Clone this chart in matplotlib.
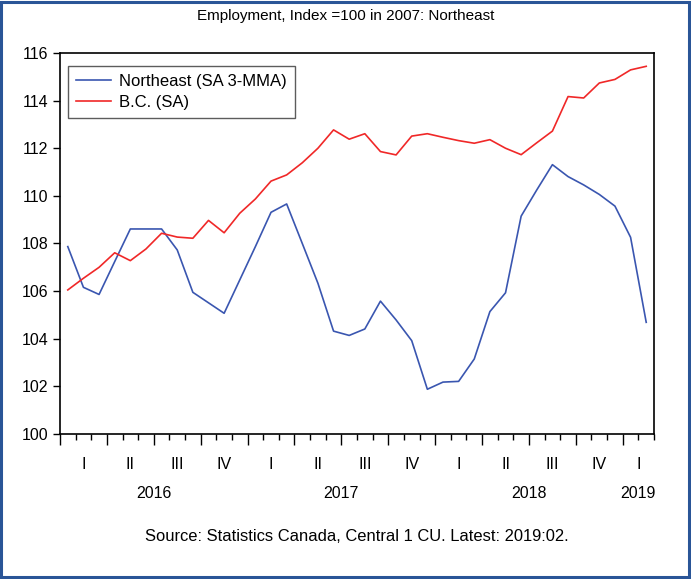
import matplotlib
matplotlib.use("Agg")
import matplotlib.pyplot as plt
from matplotlib.patches import Rectangle
import numpy as np

plt.rcParams['font.family'] = ['Liberation Sans', 'DejaVu Sans']

# Monthly data, Jan 2016 .. Feb 2019
northeast = [107.87, 106.16, 105.86, 107.24, 108.61, 108.61, 108.61, 107.73, 105.95, 105.51,
             105.07, 106.47, 107.87, 109.31, 109.66, 108.0, 106.33, 104.32, 104.14, 104.41,
             105.58, 104.79, 103.92, 101.88, 102.18, 102.21, 103.15, 105.14, 105.93, 109.15,
             110.25, 111.31, 110.81, 110.46, 110.06, 109.57, 108.26, 104.69]
bc = [106.05, 106.54, 107.0, 107.61, 107.28, 107.77, 108.43, 108.27, 108.22, 108.97,
      108.45, 109.27, 109.87, 110.62, 110.88, 111.39, 112.0, 112.77, 112.38, 112.61,
      111.86, 111.72, 112.51, 112.61, 112.46, 112.32, 112.21, 112.36, 112.0, 111.73,
      112.23, 112.72, 114.17, 114.11, 114.74, 114.89, 115.29, 115.44]
years = ['2016', '2017', '2018', '2019']
quarters = ['I', 'II', 'III', 'IV']
series_labels = ['Northeast (SA 3-MMA)', 'B.C. (SA)']

n = len(bc)
x = np.arange(n) + 0.5

fig = plt.figure(figsize=(6.91, 5.79), dpi=100)
ax = fig.add_axes([0.0868, 0.2504, 0.8597, 0.6581])

ax.plot(x, northeast, color='#3a56b0', lw=1.2, label=series_labels[0])
ax.plot(x, bc, color='#f02828', lw=1.2, label=series_labels[1])

ax.set_xlim(0, n)
ax.set_ylim(100, 116)
ax.set_yticks(np.arange(100, 117, 2))
ax.tick_params(axis='y', direction='out', length=5, labelsize=11.5, width=1)

# x ticks: months minor, quarters major
ax.set_xticks(np.arange(0, n + 1, 3))
ax.set_xticks(np.arange(0, n + 1, 1), minor=True)
ax.tick_params(axis='x', which='major', direction='out', length=8, width=1, labelbottom=False)
ax.tick_params(axis='x', which='minor', direction='out', length=4, width=1)

for s in ax.spines.values():
    s.set_linewidth(1.2)

# quarter labels
trans = ax.get_xaxis_transform()
for q in range(0, n, 3):
    end = min(q + 3, n)
    center = (q + end) / 2
    ax.text(center, -0.08, quarters[(q // 3) % 4], transform=trans, ha='center', va='center', fontsize=11.5)
for i, yr in enumerate(years):
    start = i * 12
    end = min(start + 12, n)
    ax.text((start + end) / 2, -0.157, yr, transform=trans, ha='center', va='center', fontsize=11.5)

leg = ax.legend(loc='upper left', bbox_to_anchor=(0.0135, 0.966), fontsize=12, frameon=True,
                fancybox=False, edgecolor='#333333', borderpad=0.5, handlelength=2.1,
                handletextpad=0.45, labelspacing=0.35, borderaxespad=0)
leg.get_frame().set_linewidth(1.0)

fig.text(0.5, 0.972, 'Employment, Index =100 in 2007: Northeast', ha='center', va='center', fontsize=11)
fig.text(0.517, 0.073, 'Source: Statistics Canada, Central 1 CU. Latest: 2019:02.', ha='center', va='center', fontsize=11.9)

fig.patches.append(Rectangle((0.002, 0.003), 0.995, 0.994, transform=fig.transFigure,
                             fill=False, edgecolor='#2a5597', linewidth=2.2))

fig.savefig('out.png', dpi=100)
